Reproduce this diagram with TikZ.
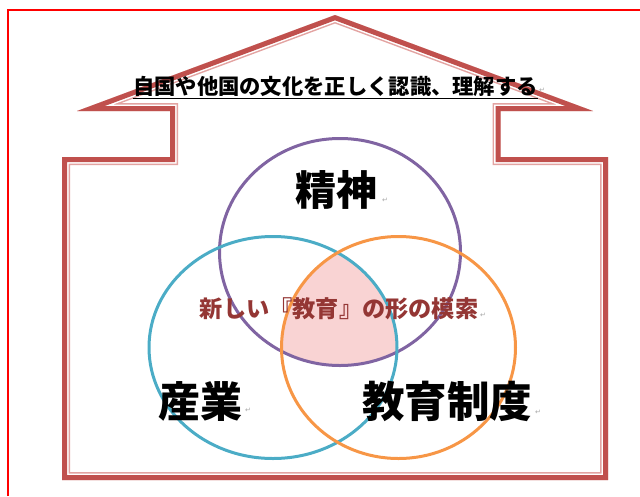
\documentclass[tikz,border=0pt]{standalone}
\usepackage{fontspec}
\newfontfamily\jp{Noto Sans CJK JP}
\newfontfamily\symf{DejaVu Sans}
\definecolor{framec}{HTML}{C0504D}
\definecolor{framelt}{HTML}{E3A3A1}
\definecolor{purp}{HTML}{8064A2}
\definecolor{cyanb}{HTML}{4BACC6}
\definecolor{orng}{HTML}{F79646}
\definecolor{dred}{HTML}{943634}
\definecolor{pinkA}{HTML}{F9D3D3}
\definecolor{pinkB}{HTML}{FEF3F3}
\tikzset{
  ring/.style={line width=3pt},
  bigtxt/.style={inner sep=0pt, font=\jp\bfseries\fontsize{#1}{#1}\selectfont},
  pmark/.style={inner sep=0pt, text=gray!70, font=\symf\fontsize{7}{7}\selectfont},
}
\begin{document}
\begin{tikzpicture}[x=1pt,y=-1pt]
\useasboundingbox (0,0) rectangle (640,496);
% outer red border
\draw[red, line width=1.3pt] (8,496) -- (8,10) -- (640,10);
% house frame (thick-thin compound line, drawn inside the outline)
\def\house{(77,111) -- (170,111) -- (170,157) -- (62,157) -- (62,480) -- (608,480) -- (608,157) -- (500.5,157) -- (500.5,111) -- (593,111) -- (335,15) -- cycle}
\begin{scope}
  \clip \house;
  \draw[framelt, line width=16pt, miter limit=20] \house;
  \draw[white, line width=13pt, miter limit=20] \house;
  \draw[framec, line width=10pt, miter limit=20] \house;
\end{scope}
% centre intersection fill
\begin{scope}
  \clip (273,347.5) ellipse [x radius=124pt, y radius=111pt];
  \clip (398.5,347.5) ellipse [x radius=117pt, y radius=111pt];
  \clip (340,252) ellipse [x radius=120.5pt, y radius=113.5pt];
  \shade[top color=pinkA, middle color=pinkB, bottom color=pinkA] (260,250) rectangle (420,370);
\end{scope}
% circles
\draw[ring, purp] (340,252) ellipse [x radius=120.5pt, y radius=113.5pt];
\draw[ring, cyanb] (273,347.5) ellipse [x radius=124pt, y radius=111pt];
\draw[ring, orng] (398.5,347.5) ellipse [x radius=117pt, y radius=111pt];
% texts
\node[bigtxt=21.3, anchor=base] (title) at (335.5,94.5) {自国や他国の文化を正しく認識、理解する};
\draw[line width=0.9pt] ([yshift=-3.5pt]title.base west) -- ([yshift=-3.5pt]title.base east);
\node[pmark] (p1) at (542,90) {↵};
\node[bigtxt=41] (seishin) at (336,190) {精神};
\node[pmark] (p2) at (385,200) {↵};
\node[bigtxt=23.2, text=dred] (center) at (339,309) {新しい『教育』の形の模索};
\node[pmark] (p3) at (483,315) {↵};
\node[bigtxt=42] (sangyo) at (200,401.5) {産業};
\node[pmark] (p4) at (248,410) {↵};
\node[bigtxt=42.5] (seido) at (447,401.5) {教育制度};
\node[pmark] (p5) at (538,412) {↵};
\end{tikzpicture}
\end{document}
